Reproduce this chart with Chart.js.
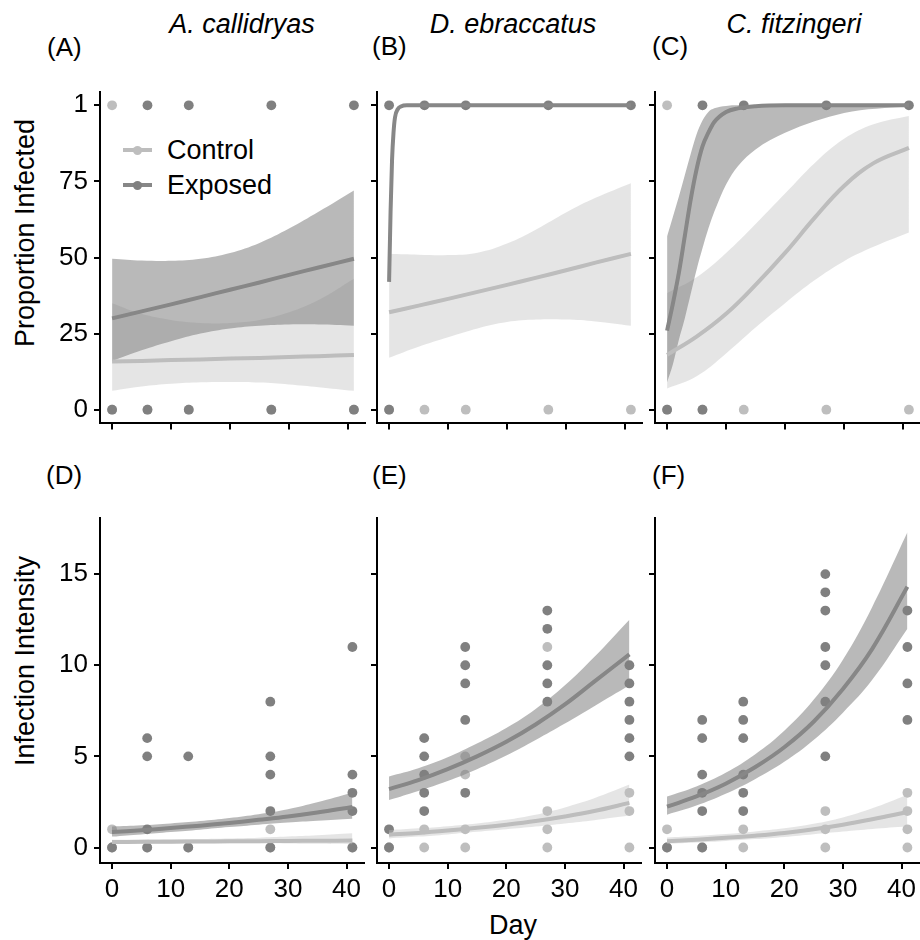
<!DOCTYPE html>
<html>
<head>
<meta charset="utf-8">
<script src="https://cdn.jsdelivr.net/npm/chart.js@4.4.1/dist/chart.umd.min.js"></script>
<style>
  body { margin: 0; width: 920px; height: 940px; overflow: hidden; background: #fff;
         position: relative; font-family: "Liberation Sans", Arial, Helvetica, sans-serif; }
  canvas { position: absolute; }
  .t { position: absolute; color: #000; white-space: nowrap; line-height: 1; transform: translate(-50%, -50%); }
  .lab { position: absolute; color: #000; white-space: nowrap; line-height: 1; transform: translateY(-50%); font-size: 26px; }
  .sp { font-style: italic; font-size: 27px; }
  .ytitle { font-size: 27px; transform: translate(-50%, -50%) rotate(-90deg); }
  .legline { position: absolute; height: 4px; width: 29px; }
  .legdot { position: absolute; width: 9px; height: 9px; border-radius: 50%; }
</style>
</head>
<body>

<div class="t sp" style="left:242px;top:24px">A. callidryas</div>
<div class="t sp" style="left:513px;top:24px">D. ebraccatus</div>
<div class="t sp" style="left:794px;top:24px">C. fitzingeri</div>

<div class="lab" style="left:47px;top:47px">(A)</div>
<div class="lab" style="left:372px;top:46px">(B)</div>
<div class="lab" style="left:652px;top:46px">(C)</div>
<div class="lab" style="left:46px;top:475px">(D)</div>
<div class="lab" style="left:372px;top:475px">(E)</div>
<div class="lab" style="left:652px;top:475px">(F)</div>

<div class="t ytitle" style="left:25px;top:233px">Proportion Infected</div>
<div class="t ytitle" style="left:25px;top:661px">Infection Intensity</div>
<div class="t" style="left:513px;top:925px;font-size:27px">Day</div>

<div class="legline" style="left:123px;top:148px;background:#bdbdbd"></div>
<div class="legdot" style="left:133px;top:145.5px;background:#bebebe"></div>
<div class="lab" style="left:167px;top:150px;font-size:27px">Control</div>
<div class="legline" style="left:123px;top:183px;background:#878787"></div>
<div class="legdot" style="left:133px;top:180.5px;background:#808080"></div>
<div class="lab" style="left:167px;top:185px;font-size:27px">Exposed</div>

<script>
// ---- axis ticks ----
const dayTicks = [0, 10, 20, 30, 40];
const propTicks = [0, 25, 50, 75, 100];
const propTickLabels = ['0', '25', '50', '75', '1'];
const intTicks = [0, 5, 10, 15];
const intTickLabels = ['0', '5', '10', '15'];

// shared x grid for the fitted curves
const fitX = [0, 5, 10, 15, 20, 25, 30, 35, 41];

// ---- (A) A. callidryas, proportion infected ----
const aCtrlPts = [[0, 100], [0, 0], [6, 0], [13, 0], [27, 0], [41, 0]];
const aExpPts = [[0, 0], [6, 100], [6, 0], [13, 100], [13, 0], [27, 100], [27, 0], [41, 100], [41, 0]];
const aCtrlFit = [15.8, 16.0, 16.3, 16.5, 16.8, 17.0, 17.3, 17.6, 18.0];
const aCtrlHi = [35, 31.5, 29.5, 28.5, 28.5, 29.5, 32, 36, 43];
const aCtrlLo = [6.2, 7.6, 8.5, 9.0, 9.1, 8.9, 8.3, 7.4, 6.2];
const aExpFit = [30, 32.3, 34.6, 37, 39.4, 41.8, 44.3, 46.7, 49.6];
const aExpHi = [49.6, 49.0, 48.9, 49.6, 51.5, 54.8, 59.5, 65, 72];
const aExpLo = [16, 19.5, 22.5, 25, 26.7, 27.6, 28, 28, 27.6];

// ---- (B) D. ebraccatus, proportion infected ----
const bCtrlPts = [[0, 0], [6, 0], [13, 0], [27, 0], [41, 0]];
const bExpPts = [[0, 100], [0, 0], [6, 100], [13, 100], [27, 100], [41, 100]];
const bCtrlFit = [32, 34.2, 36.4, 38.7, 41, 43.4, 45.8, 48.3, 51.2];
const bCtrlHi = [51.2, 50.9, 50.8, 51.6, 54.6, 59.3, 64.8, 69.6, 74.4];
const bCtrlLo = [17.1, 20.7, 23.8, 26.7, 28.8, 29.6, 29.6, 29, 27.6];
const bExpX = [0, 0.25, 0.5, 0.75, 1, 1.5, 2, 3, 5, 10, 20, 30, 41];
const bExpFit = [42, 65, 82, 91, 96, 98.8, 99.6, 100, 100, 100, 100, 100, 100];

// ---- (C) C. fitzingeri, proportion infected ----
const cCtrlPts = [[0, 100], [0, 0], [6, 0], [13, 0], [27, 0], [41, 0]];
const cExpPts = [[0, 0], [6, 100], [6, 0], [13, 100], [27, 100], [41, 100]];
const cCtrlFit = [18, 24, 31.5, 41, 51.5, 63, 73.5, 81, 86];
const cCtrlHi = [38.3, 43.5, 51.5, 61, 71, 81, 89, 93.8, 96.5];
const cCtrlLo = [7, 11, 18.5, 27, 35, 42.5, 48.8, 53.5, 58.2];
const cExpX = [0, 1, 2, 3, 4, 5, 6, 7, 8, 10, 12, 15, 20, 30, 41];
const cExpFit = [26, 35, 45, 57, 69, 79, 86.5, 91, 94.5, 97.8, 99, 99.7, 100, 100, 100];
const cExpHi = [57, 63.5, 70, 77, 84, 90.5, 95, 97.8, 99, 99.8, 100, 100, 100, 100, 100];
const cExpLo = [9, 15, 23, 30, 38, 46, 53, 59.5, 65, 74, 80, 85.5, 91, 97.5, 99.7];

// ---- (D) A. callidryas, infection intensity ----
const dCtrlPts = [[0, 1], [0, 0], [6, 0], [13, 0], [27, 1], [27, 0], [41, 0]];
const dExpPts = [[0, 0], [6, 6], [6, 5], [6, 1], [6, 0], [13, 5], [13, 0],
  [27, 8], [27, 5], [27, 4], [27, 2], [27, 0], [41, 11], [41, 4], [41, 3], [41, 2], [41, 0]];
const dCtrlFit = [0.3, 0.31, 0.32, 0.33, 0.34, 0.35, 0.36, 0.37, 0.38];
const dCtrlHi = [0.42, 0.43, 0.45, 0.47, 0.5, 0.54, 0.6, 0.67, 0.78];
const dCtrlLo = [0.2, 0.21, 0.22, 0.23, 0.23, 0.23, 0.22, 0.2, 0.18];
const dExpFit = [0.85, 0.95, 1.07, 1.2, 1.35, 1.52, 1.7, 1.92, 2.22];
const dExpHi = [1.15, 1.22, 1.32, 1.45, 1.62, 1.83, 2.1, 2.48, 3.0];
const dExpLo = [0.6, 0.72, 0.85, 0.98, 1.12, 1.25, 1.37, 1.47, 1.58];

// ---- (E) D. ebraccatus, infection intensity ----
const eCtrlPts = [[0, 0], [6, 1], [6, 0], [13, 5], [13, 4], [13, 1], [13, 0],
  [27, 11], [27, 2], [27, 1], [27, 0], [41, 3], [41, 2], [41, 0]];
const eExpPts = [[0, 1], [0, 0], [6, 6], [6, 5], [6, 4], [6, 3], [6, 2],
  [13, 11], [13, 10], [13, 9], [13, 7], [13, 3],
  [27, 13], [27, 12], [27, 10], [27, 9], [27, 8],
  [41, 10], [41, 9], [41, 8], [41, 7], [41, 6], [41, 5]];
const eCtrlFit = [0.7, 0.8, 0.93, 1.08, 1.25, 1.45, 1.7, 2.0, 2.45];
const eCtrlHi = [0.95, 1.05, 1.17, 1.32, 1.52, 1.8, 2.2, 2.7, 3.45];
const eCtrlLo = [0.5, 0.6, 0.72, 0.86, 1.0, 1.15, 1.32, 1.5, 1.75];
const eExpFit = [3.2, 3.7, 4.3, 5.0, 5.8, 6.75, 7.85, 9.1, 10.6];
const eExpHi = [3.9, 4.35, 4.95, 5.7, 6.55, 7.6, 8.9, 10.45, 12.5];
const eExpLo = [2.6, 3.1, 3.65, 4.3, 5.05, 5.9, 6.8, 7.75, 8.9];

// ---- (F) C. fitzingeri, infection intensity ----
const fCtrlPts = [[0, 1], [0, 0], [6, 0], [13, 1], [13, 0], [27, 2], [27, 1], [27, 0],
  [41, 3], [41, 2], [41, 1], [41, 0]];
const fExpPts = [[0, 0], [6, 7], [6, 6], [6, 4], [6, 3], [6, 2], [6, 0],
  [13, 8], [13, 7], [13, 6], [13, 4], [13, 3], [13, 2],
  [27, 15], [27, 14], [27, 13], [27, 11], [27, 10], [27, 8], [27, 5],
  [41, 13], [41, 11], [41, 9], [41, 7]];
const fCtrlFit = [0.35, 0.43, 0.53, 0.65, 0.8, 1.0, 1.25, 1.55, 1.95];
const fCtrlHi = [0.55, 0.63, 0.74, 0.88, 1.05, 1.3, 1.65, 2.15, 2.9];
const fCtrlLo = [0.2, 0.27, 0.36, 0.46, 0.58, 0.73, 0.88, 1.02, 1.17];
const fExpFit = [2.24, 2.8, 3.5, 4.4, 5.5, 6.9, 8.7, 10.9, 14.3];
const fExpHi = [2.8, 3.35, 4.1, 5.1, 6.4, 8.1, 10.3, 13.2, 17.3];
const fExpLo = [1.8, 2.3, 2.95, 3.75, 4.7, 5.9, 7.4, 9.2, 12.0];

// ---- styles ----
const CTRL_PT = '#bebebe', EXP_PT = '#808080';
const CTRL_LINE = '#bdbdbd', EXP_LINE = '#878787';
const CTRL_BAND = 'rgba(190,190,190,0.4)', EXP_BAND = 'rgba(128,128,128,0.55)';
const FONT = '"Liberation Sans", Arial, Helvetica, sans-serif';

const toPts = arr => arr.map(([x, y]) => ({ x, y }));
const toCurve = (xs, ys) => xs.map((x, i) => ({ x, y: ys[i] }));

const soft = { tension: 0.4 };
const steep = { tension: 0.4, cubicInterpolationMode: 'monotone' };

function pointSet(arr, color, order) {
  return { data: toPts(arr), showLine: false, pointRadius: 4.9, pointHoverRadius: 4.9,
           pointBorderWidth: 0, pointBackgroundColor: color, order };
}
function lineSet(xs, ys, color, order, curve = soft) {
  return { data: toCurve(xs, ys), borderColor: color, borderWidth: 4, pointRadius: 0,
           fill: false, order, ...curve };
}
function bandSets(xs, hi, lo, color, order, curve = soft) {
  return [
    { data: toCurve(xs, hi), borderWidth: 0, pointRadius: 0, fill: '+1', backgroundColor: color, order, ...curve },
    { data: toCurve(xs, lo), borderWidth: 0, pointRadius: 0, fill: false, order, ...curve }
  ];
}

// plot area geometry
const colLeft = [100, 377, 655];
const plotW = 266;
const rowTop = [70, 496];
const rowH = [365, 367];

function panel(col, row, datasets) {
  const yW = col === 0 ? 100 : 14;
  const xH = row === 0 ? 10 : 45;
  const cv = document.createElement('canvas');
  cv.width = yW + plotW;
  cv.height = rowH[row] + xH;
  cv.style.left = (colLeft[col] - yW) + 'px';
  cv.style.top = rowTop[row] + 'px';
  document.body.appendChild(cv);

  const yVals = row === 0 ? propTicks : intTicks;
  const yLabs = row === 0 ? propTickLabels : intTickLabels;
  const axisGrid = { drawOnChartArea: false, drawTicks: true, tickLength: 6, color: '#000', lineWidth: 2 };

  new Chart(cv, {
    type: 'line',
    data: { datasets },
    options: {
      responsive: false,
      animation: false,
      events: [],
      layout: { padding: 0, autoPadding: false },
      plugins: { legend: { display: false }, tooltip: { enabled: false } },
      scales: {
        x: {
          type: 'linear', min: -2.05, max: 43.05,
          grid: axisGrid,
          border: { display: true, color: '#000', width: 2 },
          ticks: {
            padding: 5, color: '#000', font: { family: FONT, size: 26 },
            maxRotation: 0, autoSkip: false,
            callback: v => row === 0 ? '' : String(v)
          },
          afterBuildTicks: s => { s.ticks = dayTicks.map(v => ({ value: v })); },
          afterFit: s => { s.height = xH; }
        },
        y: {
          type: 'linear',
          min: row === 0 ? -4.5 : -0.85,
          max: row === 0 ? 104.5 : 18.1,
          grid: axisGrid,
          border: { display: true, color: '#000', width: 2 },
          ticks: {
            padding: 6, color: '#000', font: { family: FONT, size: 26 }, autoSkip: false,
            callback: v => col === 0 ? yLabs[yVals.indexOf(v)] : ''
          },
          afterBuildTicks: s => { s.ticks = yVals.map(v => ({ value: v })); },
          afterFit: s => { s.width = yW; }
        }
      }
    }
  });
}

// order: higher is drawn first (points bottom, ribbons, then fitted lines on top)
panel(0, 0, [
  pointSet(aCtrlPts, CTRL_PT, 6), pointSet(aExpPts, EXP_PT, 5),
  ...bandSets(fitX, aCtrlHi, aCtrlLo, CTRL_BAND, 4), ...bandSets(fitX, aExpHi, aExpLo, EXP_BAND, 3),
  lineSet(fitX, aCtrlFit, CTRL_LINE, 2), lineSet(fitX, aExpFit, EXP_LINE, 1)
]);
panel(1, 0, [
  pointSet(bCtrlPts, CTRL_PT, 6), pointSet(bExpPts, EXP_PT, 5),
  ...bandSets(fitX, bCtrlHi, bCtrlLo, CTRL_BAND, 4),
  lineSet(fitX, bCtrlFit, CTRL_LINE, 2), lineSet(bExpX, bExpFit, EXP_LINE, 1, steep)
]);
panel(2, 0, [
  pointSet(cCtrlPts, CTRL_PT, 6), pointSet(cExpPts, EXP_PT, 5),
  ...bandSets(fitX, cCtrlHi, cCtrlLo, CTRL_BAND, 4), ...bandSets(cExpX, cExpHi, cExpLo, EXP_BAND, 3, steep),
  lineSet(fitX, cCtrlFit, CTRL_LINE, 2), lineSet(cExpX, cExpFit, EXP_LINE, 1, steep)
]);
panel(0, 1, [
  pointSet(dCtrlPts, CTRL_PT, 6), pointSet(dExpPts, EXP_PT, 5),
  ...bandSets(fitX, dCtrlHi, dCtrlLo, CTRL_BAND, 4), ...bandSets(fitX, dExpHi, dExpLo, EXP_BAND, 3),
  lineSet(fitX, dCtrlFit, CTRL_LINE, 2), lineSet(fitX, dExpFit, EXP_LINE, 1)
]);
panel(1, 1, [
  pointSet(eCtrlPts, CTRL_PT, 6), pointSet(eExpPts, EXP_PT, 5),
  ...bandSets(fitX, eCtrlHi, eCtrlLo, CTRL_BAND, 4), ...bandSets(fitX, eExpHi, eExpLo, EXP_BAND, 3),
  lineSet(fitX, eCtrlFit, CTRL_LINE, 2), lineSet(fitX, eExpFit, EXP_LINE, 1)
]);
panel(2, 1, [
  pointSet(fCtrlPts, CTRL_PT, 6), pointSet(fExpPts, EXP_PT, 5),
  ...bandSets(fitX, fCtrlHi, fCtrlLo, CTRL_BAND, 4), ...bandSets(fitX, fExpHi, fExpLo, EXP_BAND, 3),
  lineSet(fitX, fCtrlFit, CTRL_LINE, 2), lineSet(fitX, fExpFit, EXP_LINE, 1)
]);
</script>
</body>
</html>
